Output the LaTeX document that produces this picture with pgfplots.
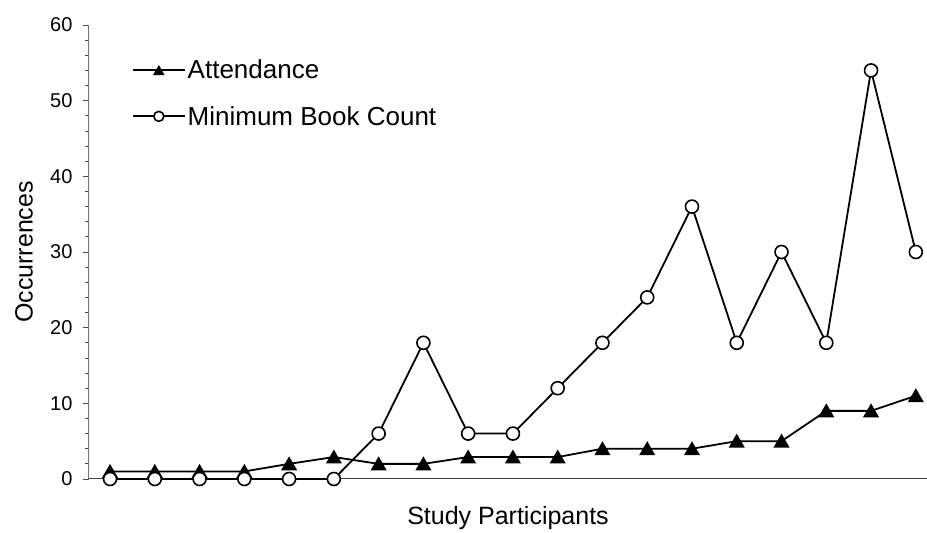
\documentclass[border=0pt]{standalone}
\usepackage{pgfplots}
\pgfplotsset{compat=1.18}
\usepackage{fontspec}
\setmainfont{Liberation Sans}
\begin{document}
\begin{tikzpicture}
\begin{axis}[
  scale only axis,
  width=838bp, height=454bp,
  xmin=-0.47, xmax=18.25,
  ymin=0, ymax=60,
  axis x line=bottom, axis y line=left,
  x axis line style={-, draw=black!75, line width=1bp},
  y axis line style={-, draw=black!55, line width=1bp},
  xtick=\empty,
  ytick={0,10,...,60},
  minor ytick={2,4,...,58},
  tick align=outside,
  major tick length=6bp, minor tick length=4bp,
  every tick/.style={black!70, line width=0.8bp},
  /pgf/number format/assume math mode=true,
  yticklabel style={font=\fontsize{20bp}{24bp}\selectfont, xshift=-7bp},
  ylabel={Occurrences},
  xlabel={Study Participants},
  label style={font=\fontsize{25bp}{30bp}\selectfont},
  ylabel style={at={(axis description cs:-0.0668,0.5)}, anchor=south, inner sep=0pt},
  xlabel style={at={(axis description cs:0.5,0)}, anchor=north, yshift=-24bp},
  legend style={draw=none, fill=none, at={(axis description cs:0.051,0.928)}, anchor=north west,
    font=\fontsize{26bp}{31bp}\selectfont, row sep=22bp, inner sep=0pt},
  legend cell align=left,
  legend image code/.code={
    \draw[mark repeat=2, mark phase=2, #1, mark size=5bp] plot coordinates {(0bp,0bp)(26bp,0bp)(52bp,0bp)};
  },
  clip=false,
]
\addplot[black, line width=1.8bp, mark=triangle*, mark size=7.5bp,
  mark options={solid, fill=black, yshift=-1.8bp}]
  coordinates {(0,1)(1,1)(2,1)(3,1)(4,2)(5,2.9)(6,2)(7,2)(8,2.9)(9,2.9)(10,2.9)(11,4)(12,4)(13,4)(14,5)(15,5)(16,9)(17,9)(18,11)};
\addlegendentry{Attendance}
\addplot[black, line width=1.8bp, mark=*, mark size=6.5bp,
  mark options={solid, fill=white, line width=1.6bp}]
  coordinates {(0,0)(1,0)(2,0)(3,0)(4,0)(5,0)(6,6)(7,18)(8,6)(9,6)(10,12)(11,18)(12,24)(13,36)(14,18)(15,30)(16,18)(17,54)(18,30)};
\addlegendentry{Minimum Book Count}
\coordinate (ll) at (rel axis cs:0,0);
\coordinate (ur) at (rel axis cs:1,1);
\end{axis}
\pgfresetboundingbox
\path[use as bounding box] ([shift={(-89bp,-54bp)}]ll) rectangle ([shift={(0bp,25bp)}]ur);
\end{tikzpicture}
\end{document}
